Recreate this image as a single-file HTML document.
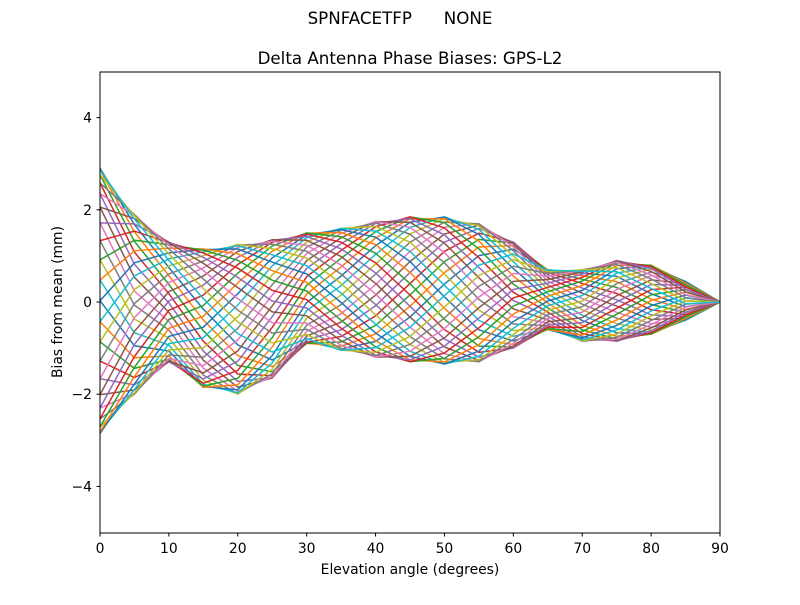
<!DOCTYPE html>
<html><head><meta charset="utf-8"><style>
body{margin:0;background:#fff}
svg text{font-family:"DejaVu Sans","Liberation Sans",sans-serif;fill:#000}
</style></head><body>
<svg id="s" width="800" height="600" xmlns="http://www.w3.org/2000/svg">
<rect width="800" height="600" fill="#fff"/>
<text x="400" y="24" font-size="16.7" text-anchor="middle" xml:space="preserve">SPNFACETFP      NONE</text>
<text x="410" y="64" font-size="16.7" text-anchor="middle">Delta Antenna Phase Biases: GPS-L2</text>
<defs><clipPath id="c"><rect x="100" y="72" width="620" height="461"/></clipPath></defs>
<g id="lines" clip-path="url(#c)"></g>
<rect x="100" y="72" width="620" height="461" fill="none" stroke="#000" stroke-width="1"/>
<g id="ticks" font-size="13.9"></g>
<text x="410" y="574" font-size="13.9" text-anchor="middle">Elevation angle (degrees)</text>
<text transform="translate(62,302) rotate(-90)" font-size="13.9" text-anchor="middle">Bias from mean (mm)</text>
</svg>
<script>
var X=function(e){return 100+e*620/90},Y=function(v){return 302-v*46.1};
var mx=[2.9,1.9,1.3,1.15,1.25,1.35,1.5,1.6,1.75,1.85,1.85,1.7,1.3,0.7,0.7,0.9,0.8,0.45,0];
var mn=[-2.85,-2.0,-1.3,-1.85,-2.0,-1.65,-0.9,-1.05,-1.2,-1.3,-1.35,-1.3,-1.0,-0.6,-0.85,-0.85,-0.7,-0.4,0];
var cols=["#1f77b4","#ff7f0e","#2ca02c","#d62728","#9467bd","#8c564b","#e377c2","#7f7f7f","#bcbd22","#17becf"];
var g=document.getElementById("lines"),h="";
for(var a=0;a<40;a++){var az=a*9*Math.PI/180,d="";
for(var i=0;i<19;i++){var e=i*5,c=(mx[i]+mn[i])/2,A=(mx[i]-mn[i])/2;
var v=c+A*Math.cos(az+e*Math.PI/180*5.5);
d+=(i?"L":"M")+X(e).toFixed(1)+" "+Y(v).toFixed(1);}
h+='<path d="'+d+'" fill="none" stroke="'+cols[a%10]+'" stroke-width="1.5"/>';}
g.innerHTML=h;
var t=document.getElementById("ticks"),s="";
for(var e=0;e<=90;e+=10){var x=X(e);s+='<line x1="'+x+'" y1="533" x2="'+x+'" y2="536.5" stroke="#000"/><text x="'+x+'" y="553" text-anchor="middle">'+e+'</text>';}
[-4,-2,0,2,4].forEach(function(v){var y=Y(v);s+='<line x1="96.5" y1="'+y+'" x2="100" y2="'+y+'" stroke="#000"/><text x="92" y="'+(y+5)+'" text-anchor="end">'+(v<0?"\u2212"+(-v):v)+'</text>';});
t.innerHTML=s;
</script>
</body></html>
